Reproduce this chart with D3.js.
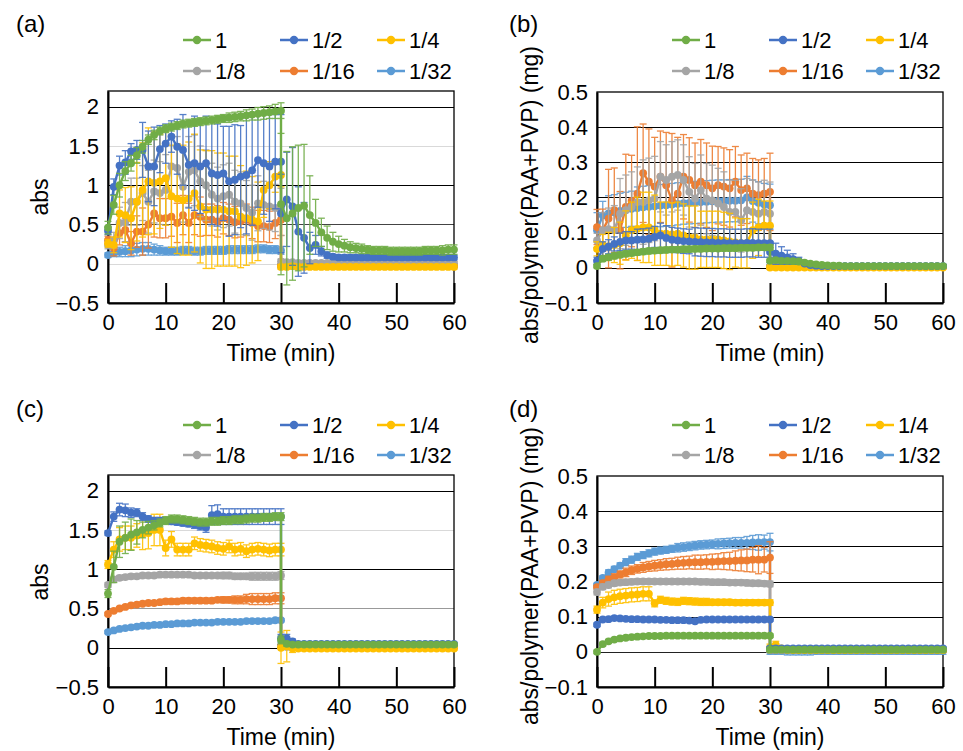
<!DOCTYPE html>
<html><head><meta charset="utf-8">
<script src="https://cdn.jsdelivr.net/npm/d3@7"></script>
<style>body{margin:0;background:#fff}svg{display:block;font-family:Arial,"Liberation Sans",Helvetica,sans-serif}</style>
</head><body><svg id="c" width="963" height="751"></svg>
<script>
// ---------- categories / ticks ----------
const TIME = [0,1,2,3,4,5,6,7,8,9,10,11,12,13,14,15,16,17,18,19,20,21,22,23,24,25,26,27,28,29,30,
              30,31,32,33,34,35,36,37,38,39,40,41,42,43,44,45,46,47,48,49,50,51,52,53,54,55,56,57,58,59,60];
const SERIES = ["1","1/2","1/4","1/8","1/16","1/32"];
const COLORS = ["#70AD47","#4472C4","#FFC000","#A5A5A5","#ED7D31","#5B9BD5"];
const X_TICKS = [0,10,20,30,40,50,60];
const Y_TICKS_ABS = [-0.5,0,0.5,1,1.5,2];
const Y_TICKS_NORM = [-0.1,0,0.1,0.2,0.3,0.4,0.5];

// ---------- panel (a) ----------
const A1 = [0.46,0.75,1.00,1.18,1.28,1.38,1.49,1.58,1.64,1.69,
1.72,1.74,1.76,1.78,1.79,1.80,1.81,1.82,1.83,1.84,
1.85,1.86,1.87,1.88,1.89,1.90,1.91,1.92,1.93,1.94,1.95,
0.76,0.58,0.64,0.71,0.74,0.62,0.52,0.40,0.33,0.28,
0.25,0.23,0.21,0.20,0.19,0.18,0.17,0.17,0.17,0.16,
0.16,0.16,0.16,0.16,0.16,0.17,0.17,0.17,0.17,0.18,0.18];
const A1E = [0.08,0.12,0.15,0.12,0.10,0.10,0.08,0.06,0.06,0.05,
0.05,0.05,0.05,0.05,0.05,0.05,0.05,0.05,0.05,0.05,
0.05,0.06,0.06,0.06,0.07,0.07,0.08,0.08,0.08,0.09,0.10,
0.90,0.85,0.85,0.80,0.78,0.50,0.30,0.18,0.15,0.12,
0.10,0.08,0.07,0.06,0.06,0.05,0.05,0.05,0.05,0.05,
0.05,0.05,0.05,0.05,0.05,0.05,0.05,0.05,0.06,0.06,0.06];
const A2 = [0.42,0.98,1.25,1.29,1.43,1.45,1.45,1.24,1.24,1.46,
1.53,1.62,1.49,1.45,1.26,1.28,1.24,1.28,1.15,1.13,
1.15,1.05,1.07,1.11,1.13,1.19,1.32,1.28,1.24,1.30,1.30,
0.64,0.82,0.73,0.41,0.33,0.20,0.24,0.16,0.11,0.09,
0.08,0.08,0.08,0.08,0.08,0.08,0.08,0.08,0.08,0.08,
0.08,0.08,0.08,0.08,0.08,0.08,0.08,0.08,0.08,0.08,0.08];
const A2E = [0.05,0.10,0.12,0.15,0.10,0.12,0.35,0.45,0.50,0.30,
0.25,0.20,0.35,0.45,0.55,0.60,0.60,0.60,0.65,0.65,
0.60,0.70,0.70,0.65,0.75,0.70,0.60,0.65,0.70,0.60,0.60,
0.50,0.60,0.75,0.57,0.45,0.20,0.12,0.06,0.04,0.03,
0.03,0.03,0.03,0.03,0.03,0.03,0.03,0.03,0.03,0.03,
0.03,0.03,0.03,0.03,0.03,0.03,0.03,0.03,0.03,0.03,0.03];
const A3 = [0.26,0.24,0.64,0.62,0.58,0.79,0.94,1.05,1.03,1.05,
1.09,0.86,0.83,0.81,0.83,0.90,0.73,0.69,0.69,0.69,
0.69,0.67,0.67,0.60,0.58,0.56,0.54,0.94,1.00,1.11,1.13,
-0.04,-0.04,-0.03,-0.04,-0.04,-0.04,-0.04,-0.04,-0.04,-0.04,
-0.04,-0.04,-0.04,-0.04,-0.04,-0.04,-0.04,-0.04,-0.04,-0.04,
-0.04,-0.04,-0.04,-0.04,-0.04,-0.04,-0.04,-0.04,-0.04,-0.04,-0.04];
const A3E = [0.05,0.10,0.30,0.35,0.40,0.50,0.60,0.68,0.65,0.60,
0.60,0.65,0.70,0.70,0.72,0.75,0.72,0.75,0.75,0.72,
0.72,0.70,0.70,0.65,0.60,0.55,0.50,0.35,0.30,0.20,0.15,
0.03,0.03,0.03,0.03,0.03,0.03,0.03,0.03,0.03,0.03,
0.03,0.03,0.03,0.03,0.03,0.03,0.03,0.03,0.03,0.03,
0.03,0.03,0.03,0.03,0.03,0.03,0.03,0.03,0.03,0.03,0.03];
const A4 = [0.24,0.30,0.52,0.53,0.79,0.79,0.90,0.79,0.92,0.90,
0.94,1.24,1.22,0.98,1.17,1.19,1.05,1.00,0.88,0.83,
0.86,0.88,0.79,0.77,0.71,0.65,0.77,0.75,0.73,0.71,0.66,
0.03,0.02,0.02,0.01,0.01,0.01,0.01,0.01,0.01,0.01,
0.01,0.01,0.01,0.01,0.01,0.01,0.01,0.01,0.01,0.01,
0.01,0.01,0.01,0.01,0.01,0.01,0.01,0.01,0.01,0.01,0.01];
const A4E = [0.05,0.10,0.20,0.25,0.30,0.30,0.35,0.40,0.40,0.40,
0.45,0.40,0.40,0.45,0.45,0.45,0.45,0.45,0.40,0.40,
0.40,0.40,0.40,0.40,0.35,0.35,0.35,0.30,0.30,0.30,0.30,
0.03,0.02,0.02,0.02,0.02,0.02,0.02,0.02,0.02,0.02,
0.02,0.02,0.02,0.02,0.02,0.02,0.02,0.02,0.02,0.02,
0.02,0.02,0.02,0.02,0.02,0.02,0.02,0.02,0.02,0.02,0.02];
const A5 = [0.30,0.20,0.39,0.43,0.26,0.41,0.41,0.50,0.64,0.58,
0.58,0.60,0.52,0.62,0.52,0.62,0.60,0.56,0.56,0.54,
0.58,0.56,0.53,0.54,0.56,0.52,0.48,0.48,0.47,0.52,0.56,
-0.02,-0.02,-0.02,-0.02,-0.02,-0.02,-0.02,-0.02,-0.02,-0.02,
-0.02,-0.02,-0.02,-0.02,-0.02,-0.02,-0.02,-0.02,-0.02,-0.02,
-0.02,-0.02,-0.02,-0.02,-0.02,-0.02,-0.02,-0.02,-0.02,-0.02,-0.02];
const A5E = [0.05,0.10,0.15,0.15,0.15,0.20,0.30,0.30,0.30,0.25,
0.25,0.25,0.25,0.25,0.25,0.25,0.25,0.20,0.20,0.20,
0.20,0.20,0.20,0.20,0.20,0.20,0.20,0.20,0.20,0.20,0.20,
0.02,0.02,0.02,0.02,0.02,0.02,0.02,0.02,0.02,0.02,
0.02,0.02,0.02,0.02,0.02,0.02,0.02,0.02,0.02,0.02,
0.02,0.02,0.02,0.02,0.02,0.02,0.02,0.02,0.02,0.02,0.02];
const A6 = [0.11,0.14,0.15,0.16,0.17,0.18,0.19,0.19,0.18,0.17,
0.16,0.16,0.16,0.17,0.17,0.16,0.16,0.17,0.17,0.17,
0.17,0.18,0.18,0.18,0.18,0.18,0.19,0.19,0.18,0.18,0.17,
-0.03,-0.03,-0.03,-0.03,-0.03,-0.03,-0.03,-0.03,-0.03,-0.03,
-0.03,-0.03,-0.03,-0.03,-0.03,-0.03,-0.03,-0.03,-0.03,-0.03,
-0.03,-0.03,-0.03,-0.03,-0.03,-0.03,-0.03,-0.03,-0.03,-0.03,-0.03];
const A6E = [0.03,0.05,0.06,0.07,0.08,0.08,0.08,0.08,0.07,0.06,
0.05,0.05,0.05,0.05,0.05,0.05,0.05,0.05,0.05,0.05,
0.05,0.05,0.05,0.05,0.05,0.05,0.05,0.05,0.05,0.05,0.05,
0.02,0.02,0.02,0.02,0.02,0.02,0.02,0.02,0.02,0.02,
0.02,0.02,0.02,0.02,0.02,0.02,0.02,0.02,0.02,0.02,
0.02,0.02,0.02,0.02,0.02,0.02,0.02,0.02,0.02,0.02,0.02];

// ---------- panel (b) ----------
const B1 = [0.005,0.026,0.030,0.034,0.037,0.040,0.042,0.044,0.046,0.048,
0.049,0.050,0.051,0.052,0.052,0.053,0.053,0.054,0.054,0.055,
0.055,0.055,0.056,0.056,0.056,0.057,0.057,0.057,0.058,0.058,0.058,
0.020,0.022,0.020,0.020,0.019,0.018,0.015,0.012,0.010,0.008,
0.007,0.006,0.006,0.005,0.005,0.005,0.005,0.005,0.005,0.005,
0.005,0.005,0.005,0.005,0.005,0.005,0.005,0.005,0.005,0.005,0.005];
const B1E = [0.005,0.008,0.008,0.008,0.008,0.008,0.008,0.008,0.008,0.008,
0.008,0.008,0.008,0.008,0.008,0.008,0.008,0.008,0.008,0.008,
0.008,0.008,0.008,0.008,0.008,0.008,0.008,0.008,0.008,0.008,0.008,
0.005,0.005,0.005,0.005,0.005,0.005,0.005,0.005,0.005,0.005,
0.005,0.005,0.005,0.005,0.005,0.005,0.005,0.005,0.005,0.005,
0.005,0.005,0.005,0.005,0.005,0.005,0.005,0.005,0.005,0.005,0.005];
const B2 = [0.020,0.054,0.060,0.068,0.074,0.078,0.078,0.080,0.081,0.083,
0.088,0.092,0.085,0.080,0.078,0.076,0.075,0.074,0.073,0.072,
0.072,0.071,0.071,0.070,0.070,0.070,0.071,0.071,0.070,0.070,0.070,
0.045,0.040,0.035,0.030,0.025,0.020,0.012,0.008,0.006,0.005,
0.005,0.005,0.005,0.005,0.005,0.005,0.005,0.005,0.005,0.005,
0.005,0.005,0.005,0.005,0.005,0.005,0.005,0.005,0.005,0.005,0.005];
const B2E = [0.010,0.020,0.020,0.020,0.025,0.025,0.025,0.030,0.030,0.030,
0.030,0.035,0.035,0.035,0.035,0.035,0.035,0.040,0.040,0.040,
0.040,0.040,0.040,0.040,0.040,0.040,0.040,0.040,0.040,0.040,0.040,
0.030,0.030,0.025,0.020,0.015,0.010,0.005,0.005,0.005,0.005,
0.005,0.005,0.005,0.005,0.005,0.005,0.005,0.005,0.005,0.005,
0.005,0.005,0.005,0.005,0.005,0.005,0.005,0.005,0.005,0.005,0.005];
const B3 = [0.054,0.065,0.061,0.065,0.070,0.092,0.107,0.111,0.115,0.115,
0.107,0.097,0.097,0.095,0.097,0.092,0.086,0.086,0.081,0.081,
0.081,0.081,0.078,0.075,0.072,0.070,0.070,0.107,0.115,0.120,0.120,
0.001,0.001,0.001,0.001,0.001,0.001,0.001,0.001,0.001,0.001,
0.001,0.001,0.001,0.001,0.001,0.001,0.001,0.001,0.001,0.001,
0.001,0.001,0.001,0.001,0.001,0.001,0.001,0.001,0.001,0.001,0.001];
const B3E = [0.020,0.030,0.040,0.050,0.060,0.070,0.080,0.090,0.100,0.100,
0.100,0.090,0.090,0.090,0.090,0.090,0.090,0.090,0.080,0.080,
0.080,0.080,0.080,0.080,0.070,0.070,0.070,0.080,0.080,0.070,0.070,
0.004,0.004,0.004,0.004,0.004,0.004,0.004,0.004,0.004,0.004,
0.004,0.004,0.004,0.004,0.004,0.004,0.004,0.004,0.004,0.004,
0.004,0.004,0.004,0.004,0.004,0.004,0.004,0.004,0.004,0.004,0.004];
const B4 = [0.078,0.107,0.110,0.107,0.154,0.164,0.173,0.187,0.187,0.192,
0.197,0.259,0.250,0.259,0.264,0.250,0.216,0.197,0.221,0.197,
0.192,0.183,0.173,0.159,0.159,0.135,0.164,0.159,0.154,0.159,0.154,
0.003,0.003,0.003,0.003,0.003,0.003,0.003,0.003,0.003,0.003,
0.003,0.003,0.003,0.003,0.003,0.003,0.003,0.003,0.003,0.003,
0.003,0.003,0.003,0.003,0.003,0.003,0.003,0.003,0.003,0.003,0.003];
const B4E = [0.020,0.050,0.060,0.070,0.100,0.100,0.100,0.100,0.120,0.120,
0.120,0.100,0.100,0.100,0.100,0.100,0.100,0.100,0.100,0.100,
0.100,0.100,0.100,0.090,0.090,0.090,0.090,0.090,0.090,0.090,0.090,
0.004,0.004,0.004,0.004,0.004,0.004,0.004,0.004,0.004,0.004,
0.004,0.004,0.004,0.004,0.004,0.004,0.004,0.004,0.004,0.004,
0.004,0.004,0.004,0.004,0.004,0.004,0.004,0.004,0.004,0.004,0.004];
const B5 = [0.116,0.107,0.140,0.164,0.107,0.173,0.190,0.211,0.269,0.245,
0.231,0.259,0.235,0.192,0.211,0.259,0.250,0.235,0.245,0.235,
0.226,0.235,0.231,0.226,0.245,0.221,0.226,0.211,0.207,0.211,0.216,
0.003,0.003,0.003,0.003,0.003,0.003,0.003,0.003,0.003,0.003,
0.003,0.003,0.003,0.003,0.003,0.003,0.003,0.003,0.003,0.003,
0.003,0.003,0.003,0.003,0.003,0.003,0.003,0.003,0.003,0.003,0.003];
const B5E = [0.050,0.060,0.140,0.120,0.110,0.150,0.130,0.190,0.140,0.150,
0.140,0.130,0.150,0.190,0.160,0.120,0.120,0.120,0.120,0.120,
0.120,0.110,0.110,0.110,0.100,0.100,0.100,0.100,0.100,0.100,0.110,
0.004,0.004,0.004,0.004,0.004,0.004,0.004,0.004,0.004,0.004,
0.004,0.004,0.004,0.004,0.004,0.004,0.004,0.004,0.004,0.004,
0.004,0.004,0.004,0.004,0.004,0.004,0.004,0.004,0.004,0.004,0.004];
const B6 = [0.107,0.149,0.155,0.158,0.162,0.165,0.168,0.170,0.172,0.174,
0.175,0.177,0.178,0.180,0.182,0.184,0.185,0.186,0.187,0.188,
0.189,0.190,0.190,0.191,0.191,0.192,0.200,0.190,0.185,0.180,0.178,
0.004,0.004,0.004,0.004,0.004,0.004,0.004,0.004,0.004,0.004,
0.004,0.004,0.004,0.004,0.004,0.004,0.004,0.004,0.004,0.004,
0.004,0.004,0.004,0.004,0.004,0.004,0.004,0.004,0.004,0.004,0.004];
const B6E = [0.050,0.040,0.050,0.050,0.050,0.050,0.050,0.060,0.060,0.060,
0.060,0.060,0.060,0.060,0.060,0.060,0.060,0.060,0.060,0.060,
0.060,0.060,0.060,0.060,0.060,0.060,0.060,0.060,0.060,0.060,0.060,
0.004,0.004,0.004,0.004,0.004,0.004,0.004,0.004,0.004,0.004,
0.004,0.004,0.004,0.004,0.004,0.004,0.004,0.004,0.004,0.004,
0.004,0.004,0.004,0.004,0.004,0.004,0.004,0.004,0.004,0.004,0.004];

// ---------- panel (c) ----------
const C1 = [0.69,1.03,1.35,1.40,1.44,1.47,1.50,1.53,1.56,1.59,
1.62,1.64,1.64,1.63,1.62,1.61,1.60,1.60,1.61,1.61,
1.62,1.62,1.63,1.63,1.64,1.65,1.65,1.66,1.66,1.67,1.67,
0.10,0.05,0.04,0.04,0.04,0.04,0.04,0.04,0.04,0.04,
0.04,0.04,0.04,0.04,0.04,0.04,0.04,0.04,0.04,0.04,
0.04,0.04,0.04,0.04,0.04,0.04,0.04,0.04,0.04,0.04,0.04];
const C1E = [0.05,0.20,0.20,0.20,0.20,0.15,0.10,0.08,0.06,0.05,
0.05,0.05,0.05,0.05,0.05,0.05,0.05,0.05,0.05,0.05,
0.05,0.05,0.05,0.05,0.05,0.05,0.05,0.05,0.05,0.05,0.05,
0.05,0.03,0.02,0.02,0.02,0.02,0.02,0.02,0.02,0.02,
0.02,0.02,0.02,0.02,0.02,0.02,0.02,0.02,0.02,0.02,
0.02,0.02,0.02,0.02,0.02,0.02,0.02,0.02,0.02,0.02,0.02];
const C2 = [1.46,1.67,1.76,1.75,1.72,1.72,1.67,1.64,1.62,1.62,
1.62,1.61,1.60,1.59,1.58,1.57,1.55,1.53,1.69,1.70,
1.67,1.67,1.67,1.67,1.67,1.67,1.67,1.67,1.67,1.67,1.67,
0.12,0.12,0.08,0.05,0.05,0.05,0.05,0.05,0.05,0.05,
0.05,0.05,0.05,0.05,0.05,0.05,0.05,0.05,0.05,0.05,
0.05,0.05,0.05,0.05,0.05,0.05,0.05,0.05,0.05,0.05,0.05];
const C2E = [0.03,0.06,0.08,0.08,0.06,0.05,0.05,0.04,0.04,0.04,
0.04,0.04,0.04,0.04,0.04,0.05,0.05,0.06,0.12,0.12,
0.10,0.10,0.10,0.10,0.10,0.10,0.10,0.10,0.10,0.10,0.10,
0.05,0.05,0.03,0.02,0.02,0.02,0.02,0.02,0.02,0.02,
0.02,0.02,0.02,0.02,0.02,0.02,0.02,0.02,0.02,0.02,
0.02,0.02,0.02,0.02,0.02,0.02,0.02,0.02,0.02,0.02,0.02];
const C3 = [1.06,1.25,1.38,1.40,1.40,1.43,1.45,1.46,1.50,1.50,
1.27,1.38,1.25,1.25,1.25,1.33,1.31,1.30,1.29,1.27,
1.26,1.29,1.25,1.26,1.23,1.25,1.26,1.25,1.24,1.25,1.25,
0.00,0.02,-0.01,-0.01,-0.01,-0.01,-0.01,-0.01,-0.01,-0.01,
-0.01,-0.01,-0.01,-0.01,-0.01,-0.01,-0.01,-0.01,-0.01,-0.01,
-0.01,-0.01,-0.01,-0.01,-0.01,-0.01,-0.01,-0.01,-0.01,-0.01,-0.01];
const C3E = [0.05,0.10,0.15,0.15,0.15,0.15,0.20,0.20,0.20,0.20,
0.10,0.10,0.08,0.08,0.08,0.08,0.08,0.08,0.08,0.08,
0.08,0.08,0.08,0.08,0.08,0.08,0.08,0.08,0.08,0.08,0.08,
0.20,0.20,0.05,0.02,0.02,0.02,0.02,0.02,0.02,0.02,
0.02,0.02,0.02,0.02,0.02,0.02,0.02,0.02,0.02,0.02,
0.02,0.02,0.02,0.02,0.02,0.02,0.02,0.02,0.02,0.02,0.02];
const C4 = [0.80,0.87,0.89,0.90,0.91,0.91,0.92,0.92,0.92,0.93,
0.93,0.93,0.93,0.93,0.93,0.92,0.92,0.92,0.92,0.92,
0.92,0.92,0.91,0.91,0.91,0.91,0.91,0.91,0.91,0.91,0.92,
0.01,0.01,0.01,0.01,0.01,0.01,0.01,0.01,0.01,0.01,
0.01,0.01,0.01,0.01,0.01,0.01,0.01,0.01,0.01,0.01,
0.01,0.01,0.01,0.01,0.01,0.01,0.01,0.01,0.01,0.01,0.01];
const C4E = [0.03,0.03,0.03,0.03,0.03,0.03,0.03,0.03,0.03,0.03,
0.03,0.03,0.03,0.03,0.03,0.03,0.03,0.03,0.03,0.03,
0.04,0.04,0.04,0.04,0.04,0.05,0.05,0.05,0.05,0.05,0.05,
0.02,0.02,0.02,0.02,0.02,0.02,0.02,0.02,0.02,0.02,
0.02,0.02,0.02,0.02,0.02,0.02,0.02,0.02,0.02,0.02,
0.02,0.02,0.02,0.02,0.02,0.02,0.02,0.02,0.02,0.02,0.02];
const C5 = [0.43,0.47,0.50,0.52,0.54,0.55,0.56,0.57,0.57,0.58,
0.59,0.59,0.59,0.60,0.60,0.60,0.60,0.60,0.60,0.61,
0.61,0.61,0.61,0.61,0.62,0.62,0.62,0.62,0.62,0.63,0.63,
0.02,0.02,0.02,0.02,0.02,0.02,0.02,0.02,0.02,0.02,
0.02,0.02,0.02,0.02,0.02,0.02,0.02,0.02,0.02,0.02,
0.02,0.02,0.02,0.02,0.02,0.02,0.02,0.02,0.02,0.02,0.02];
const C5E = [0.02,0.02,0.02,0.02,0.02,0.02,0.02,0.02,0.02,0.02,
0.03,0.03,0.03,0.03,0.03,0.03,0.03,0.03,0.03,0.03,
0.04,0.04,0.05,0.05,0.06,0.07,0.07,0.07,0.07,0.07,0.07,
0.02,0.02,0.02,0.02,0.02,0.02,0.02,0.02,0.02,0.02,
0.02,0.02,0.02,0.02,0.02,0.02,0.02,0.02,0.02,0.02,
0.02,0.02,0.02,0.02,0.02,0.02,0.02,0.02,0.02,0.02,0.02];
const C6 = [0.20,0.22,0.24,0.25,0.26,0.27,0.28,0.28,0.29,0.29,
0.30,0.30,0.31,0.31,0.31,0.32,0.32,0.32,0.32,0.33,
0.33,0.33,0.33,0.33,0.34,0.34,0.34,0.34,0.34,0.35,0.35,
0.02,0.02,0.02,0.02,0.02,0.02,0.02,0.02,0.02,0.02,
0.02,0.02,0.02,0.02,0.02,0.02,0.02,0.02,0.02,0.02,
0.02,0.02,0.02,0.02,0.02,0.02,0.02,0.02,0.02,0.02,0.02];
const C6E = [0.02,0.02,0.02,0.02,0.02,0.02,0.02,0.02,0.02,0.02,
0.02,0.02,0.02,0.02,0.02,0.02,0.02,0.02,0.02,0.02,
0.02,0.02,0.02,0.02,0.02,0.02,0.02,0.02,0.02,0.02,0.02,
0.02,0.02,0.02,0.02,0.02,0.02,0.02,0.02,0.02,0.02,
0.02,0.02,0.02,0.02,0.02,0.02,0.02,0.02,0.02,0.02,
0.02,0.02,0.02,0.02,0.02,0.02,0.02,0.02,0.02,0.02,0.02];

// ---------- panel (d) ----------
const D1 = [0.000,0.022,0.030,0.035,0.038,0.040,0.042,0.043,0.044,0.045,
0.045,0.045,0.046,0.046,0.046,0.046,0.046,0.046,0.046,0.046,
0.046,0.046,0.046,0.046,0.046,0.046,0.046,0.046,0.046,0.046,0.046,
0.006,0.006,0.006,0.006,0.006,0.006,0.006,0.006,0.006,0.006,
0.006,0.006,0.006,0.006,0.006,0.006,0.006,0.006,0.006,0.006,
0.006,0.006,0.006,0.006,0.006,0.006,0.006,0.006,0.006,0.006,0.006];
const D1E = [0.005,0.005,0.005,0.005,0.005,0.005,0.005,0.005,0.005,0.005,
0.005,0.005,0.005,0.005,0.005,0.005,0.005,0.005,0.005,0.005,
0.005,0.005,0.005,0.005,0.005,0.005,0.005,0.005,0.005,0.005,0.005,
0.005,0.005,0.005,0.005,0.005,0.005,0.005,0.005,0.005,0.005,
0.005,0.005,0.005,0.005,0.005,0.005,0.005,0.005,0.005,0.005,
0.005,0.005,0.005,0.005,0.005,0.005,0.005,0.005,0.005,0.005,0.005];
const D2 = [0.077,0.092,0.093,0.096,0.095,0.094,0.093,0.093,0.092,0.092,
0.092,0.091,0.091,0.090,0.090,0.090,0.089,0.087,0.091,0.092,
0.092,0.092,0.092,0.092,0.092,0.092,0.092,0.092,0.092,0.092,0.092,
0.010,0.010,0.010,0.010,0.010,0.010,0.010,0.010,0.010,0.010,
0.010,0.010,0.010,0.010,0.010,0.010,0.010,0.010,0.010,0.010,
0.010,0.010,0.010,0.010,0.010,0.010,0.010,0.010,0.010,0.010,0.010];
const D2E = [0.005,0.005,0.005,0.005,0.005,0.005,0.005,0.005,0.005,0.005,
0.005,0.005,0.005,0.005,0.005,0.005,0.005,0.005,0.005,0.005,
0.005,0.005,0.005,0.005,0.005,0.005,0.005,0.005,0.005,0.005,0.005,
0.005,0.005,0.005,0.005,0.005,0.005,0.005,0.005,0.005,0.005,
0.005,0.005,0.005,0.005,0.005,0.005,0.005,0.005,0.005,0.005,
0.005,0.005,0.005,0.005,0.005,0.005,0.005,0.005,0.005,0.005,0.005];
const D3 = [0.120,0.140,0.150,0.155,0.158,0.160,0.162,0.163,0.165,0.165,
0.138,0.148,0.145,0.143,0.142,0.145,0.144,0.143,0.142,0.142,
0.141,0.141,0.141,0.141,0.140,0.140,0.140,0.140,0.140,0.140,0.140,
0.012,0.020,0.010,0.006,0.005,0.005,0.005,0.005,0.005,0.005,
0.005,0.005,0.005,0.005,0.005,0.005,0.005,0.005,0.005,0.005,
0.005,0.005,0.005,0.005,0.005,0.005,0.005,0.005,0.005,0.005,0.005];
const D3E = [0.010,0.015,0.020,0.020,0.020,0.020,0.020,0.020,0.020,0.020,
0.010,0.010,0.010,0.010,0.010,0.010,0.010,0.010,0.010,0.010,
0.008,0.008,0.008,0.008,0.008,0.008,0.008,0.008,0.008,0.008,0.008,
0.010,0.010,0.005,0.005,0.005,0.005,0.005,0.005,0.005,0.005,
0.005,0.005,0.005,0.005,0.005,0.005,0.005,0.005,0.005,0.005,
0.005,0.005,0.005,0.005,0.005,0.005,0.005,0.005,0.005,0.005,0.005];
const D4 = [0.170,0.185,0.190,0.195,0.197,0.198,0.199,0.200,0.200,0.200,
0.200,0.200,0.200,0.200,0.200,0.200,0.200,0.200,0.199,0.199,
0.198,0.198,0.198,0.197,0.197,0.197,0.196,0.195,0.195,0.194,0.193,
0.005,0.005,0.005,0.005,0.005,0.005,0.005,0.005,0.005,0.005,
0.005,0.005,0.005,0.005,0.005,0.005,0.005,0.005,0.005,0.005,
0.005,0.005,0.005,0.005,0.005,0.005,0.005,0.005,0.005,0.005,0.005];
const D4E = [0.008,0.008,0.008,0.008,0.008,0.008,0.008,0.008,0.008,0.008,
0.008,0.008,0.008,0.008,0.008,0.008,0.008,0.008,0.008,0.008,
0.008,0.008,0.008,0.008,0.008,0.008,0.008,0.008,0.008,0.008,0.008,
0.005,0.005,0.005,0.005,0.005,0.005,0.005,0.005,0.005,0.005,
0.005,0.005,0.005,0.005,0.005,0.005,0.005,0.005,0.005,0.005,
0.005,0.005,0.005,0.005,0.005,0.005,0.005,0.005,0.005,0.005,0.005];
const D5 = [0.184,0.195,0.205,0.212,0.220,0.226,0.232,0.236,0.240,0.243,
0.245,0.247,0.249,0.250,0.252,0.253,0.254,0.255,0.255,0.256,
0.256,0.257,0.258,0.258,0.259,0.260,0.260,0.262,0.262,0.262,0.268,
0.005,0.005,0.005,0.005,0.005,0.005,0.005,0.005,0.005,0.005,
0.005,0.005,0.005,0.005,0.005,0.005,0.005,0.005,0.005,0.005,
0.005,0.005,0.005,0.005,0.005,0.005,0.005,0.005,0.005,0.005,0.005];
const D5E = [0.005,0.008,0.010,0.010,0.010,0.012,0.012,0.012,0.014,0.014,
0.015,0.015,0.016,0.016,0.017,0.018,0.018,0.020,0.020,0.020,
0.022,0.022,0.024,0.025,0.028,0.030,0.032,0.035,0.040,0.035,0.045,
0.005,0.005,0.005,0.005,0.005,0.005,0.005,0.005,0.005,0.005,
0.005,0.005,0.005,0.005,0.005,0.005,0.005,0.005,0.005,0.005,
0.005,0.005,0.005,0.005,0.005,0.005,0.005,0.005,0.005,0.005,0.005];
const D6 = [0.190,0.210,0.225,0.235,0.245,0.255,0.262,0.270,0.275,0.280,
0.285,0.288,0.290,0.293,0.296,0.298,0.300,0.302,0.304,0.305,
0.306,0.307,0.308,0.309,0.310,0.310,0.310,0.311,0.311,0.312,0.312,
0.003,0.003,0.003,0.003,0.003,0.003,0.003,0.003,0.003,0.003,
0.003,0.003,0.003,0.003,0.003,0.003,0.003,0.003,0.003,0.003,
0.003,0.003,0.003,0.003,0.003,0.003,0.003,0.003,0.003,0.003,0.003];
const D6E = [0.005,0.006,0.008,0.008,0.008,0.010,0.010,0.010,0.010,0.010,
0.010,0.010,0.010,0.010,0.012,0.012,0.012,0.012,0.012,0.012,
0.012,0.014,0.014,0.014,0.015,0.015,0.018,0.020,0.022,0.020,0.025,
0.010,0.010,0.010,0.012,0.012,0.012,0.012,0.012,0.010,0.010,
0.010,0.010,0.010,0.010,0.010,0.010,0.010,0.010,0.010,0.010,
0.010,0.010,0.010,0.010,0.010,0.010,0.010,0.010,0.010,0.010,0.010];

// ---------- drawing ----------
const svg = d3.select("#c");
const FONT = 22;
const fmtTick = v => (v < 0 ? "\u2212" + Math.abs(v) : String(v));

const panels = [
  {label:"(a)", lx:16, ly:32, L:108, T:91, W:346, H:212, dom:[-0.5,2.2], ticks:Y_TICKS_ABS,
   title:"abs", tx:40, ty:197, legX:183, legY:40, legDy:31,
   vals:[A1,A2,A3,A4,A5,A6], errs:[A1E,A2E,A3E,A4E,A5E,A6E],
   grid:{"2":"#000","1.5":"#d9d9d9","1":"#000","0.5":"#444","0":"#d9d9d9"}},
  {label:"(b)", lx:509, ly:32, L:597, T:92, W:346, H:211, dom:[-0.1,0.5], ticks:Y_TICKS_NORM,
   title:"abs/polymer(PAA+PVP) (mg)", tx:530, ty:195, legX:672, legY:40, legDy:31,
   vals:[B1,B2,B3,B4,B5,B6], errs:[B1E,B2E,B3E,B4E,B5E,B6E],
   grid:{"0.4":"#000","0.3":"#000","0.2":"#000","0.1":"#000","0":"#000"}},
  {label:"(c)", lx:16, ly:417, L:108, T:475, W:346, H:212, dom:[-0.5,2.2], ticks:Y_TICKS_ABS,
   title:"abs", tx:40, ty:582, legX:183, legY:425, legDy:30,
   vals:[C1,C2,C3,C4,C5,C6], errs:[C1E,C2E,C3E,C4E,C5E,C6E],
   grid:{"2":"#000","1.5":"#d9d9d9","1":"#000","0.5":"#999","0":"#000"}},
  {label:"(d)", lx:509, ly:417, L:597, T:476, W:346, H:211, dom:[-0.1,0.5], ticks:Y_TICKS_NORM,
   title:"abs/polymer(PAA+PVP) (mg)", tx:530, ty:576, legX:672, legY:425, legDy:30,
   vals:[D1,D2,D3,D4,D5,D6], errs:[D1E,D2E,D3E,D4E,D5E,D6E],
   grid:{"0.4":"#000","0.3":"#000","0.2":"#000","0.1":"#000","0":"#222"}}
];

panels.forEach(p => {
  const g = svg.append("g");
  const x = d3.scaleLinear().domain([0,60]).range([p.L, p.L + p.W]);
  const y = d3.scaleLinear().domain(p.dom).range([p.T + p.H, p.T]);

  // gridlines
  p.ticks.forEach(v => {
    const c = p.grid[String(v)];
    if (!c) return;
    g.append("line").attr("x1", p.L).attr("x2", p.L + p.W)
      .attr("y1", Math.round(y(v)) + 0.5).attr("y2", Math.round(y(v)) + 0.5)
      .attr("stroke", c).attr("stroke-width", 1.2);
  });

  // frame
  g.append("rect").attr("x", p.L).attr("y", p.T).attr("width", p.W).attr("height", p.H)
    .attr("fill", "none").attr("stroke", "#000").attr("stroke-width", 1.3);

  // x axis (inner tick marks upward)
  const xa = g.append("g").attr("transform", `translate(0,${p.T + p.H})`)
    .call(d3.axisBottom(x).tickValues(X_TICKS).tickSize(-20).tickPadding(11).tickSizeOuter(0));
  xa.select(".domain").attr("stroke", "#000").attr("stroke-width", 2);
  xa.selectAll(".tick line").attr("stroke", "#000").attr("stroke-width", 2);
  xa.selectAll("text").attr("font-size", FONT).attr("fill", "#000").attr("font-family", "Arial, 'Liberation Sans', sans-serif");

  // y axis
  const ya = g.append("g").attr("transform", `translate(${p.L},0)`)
    .call(d3.axisLeft(y).tickValues(p.ticks).tickSize(0).tickPadding(9).tickFormat(fmtTick));
  ya.select(".domain").attr("stroke", "#000").attr("stroke-width", 2);
  ya.selectAll("text").attr("font-size", FONT).attr("fill", "#000").attr("font-family", "Arial, 'Liberation Sans', sans-serif");

  // titles
  g.append("text").attr("x", p.L + p.W / 2).attr("y", p.T + p.H + 58)
    .attr("text-anchor", "middle").attr("font-size", 23).text("Time (min)");
  g.append("text").attr("transform", `translate(${p.tx},${p.ty}) rotate(-90)`)
    .attr("text-anchor", "middle").attr("dy", "0.35em").attr("font-size", 23).text(p.title);
  g.append("text").attr("x", p.lx).attr("y", p.ly).attr("font-size", 24).text(p.label);

  // series (drawn last-first so "1" is on top)
  const line = d3.line().x((d, i) => x(TIME[i])).y(d => y(d));
  for (let s = SERIES.length - 1; s >= 0; s--) {
    const vals = p.vals[s], errs = p.errs[s], col = COLORS[s];
    const sg = g.append("g");
    const eb = sg.append("g").attr("stroke", col).attr("stroke-width", 1.3).attr("opacity", 0.9);
    vals.forEach((v, i) => {
      const e = errs[i], xi = x(TIME[i]);
      eb.append("line").attr("x1", xi).attr("x2", xi).attr("y1", y(v - e)).attr("y2", y(v + e));
      eb.append("line").attr("x1", xi - 3.5).attr("x2", xi + 3.5).attr("y1", y(v - e)).attr("y2", y(v - e));
      eb.append("line").attr("x1", xi - 3.5).attr("x2", xi + 3.5).attr("y1", y(v + e)).attr("y2", y(v + e));
    });
    sg.append("path").datum(vals).attr("d", line).attr("fill", "none")
      .attr("stroke", col).attr("stroke-width", 2.4);
    sg.selectAll("circle").data(vals).join("circle")
      .attr("cx", (d, i) => x(TIME[i])).attr("cy", d => y(d)).attr("r", 3.9).attr("fill", col);
  }

  // legend
  SERIES.forEach((name, i) => {
    const lx = p.legX + (i % 3) * 97, ly = p.legY + Math.floor(i / 3) * p.legDy;
    g.append("line").attr("x1", lx).attr("x2", lx + 28).attr("y1", ly).attr("y2", ly)
      .attr("stroke", COLORS[i]).attr("stroke-width", 2.5);
    g.append("circle").attr("cx", lx + 14).attr("cy", ly).attr("r", 4.2).attr("fill", COLORS[i]);
    g.append("text").attr("x", lx + 32).attr("y", ly).attr("dy", "0.35em")
      .attr("font-size", FONT).text(name);
  });
});
</script></body></html>
